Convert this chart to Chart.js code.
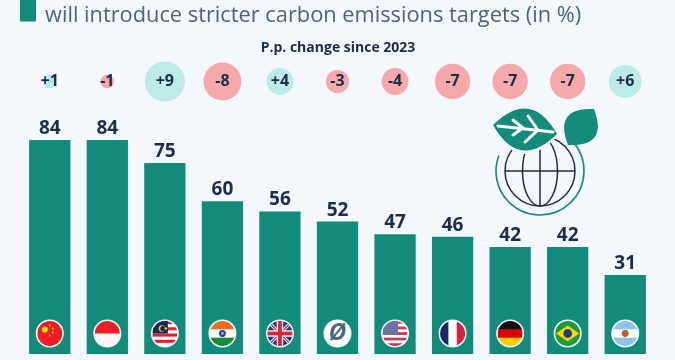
<!DOCTYPE html>
<html>
<head>
<meta charset="utf-8">
<title>Stricter carbon emissions targets</title>
<script src="https://cdn.jsdelivr.net/npm/chart.js@4"></script>
<style>
  html, body { margin: 0; padding: 0; background: #f4f7fb; }
  #wrap { position: relative; width: 675px; height: 360px; overflow: hidden; }
</style>
</head>
<body>
<div id="wrap"><canvas id="myChart" width="675" height="360"></canvas></div>
<script>
var countries = ["China", "Indonesia", "Malaysia", "India", "UK", "Global", "US", "France", "Germany", "Brazil", "Argentina"];
var shares = [84, 84, 75, 60, 56, 52, 47, 46, 42, 42, 31];
var changes = [1, -1, 9, -8, 4, -3, -4, -7, -7, -7, 6];
var changeRow = [107, 107, 107, 107, 107, 107, 107, 107, 107, 107, 107]; // height of the bubble row on the y scale

var titleText = "will introduce stricter carbon emissions targets (in %)";
var changeTitle = "P.p. change since 2023";

var TEAL = "#138b7b";
var NAVY = "#1b2d4b";
var FONT = '"Open Sans", sans-serif';

function disc(c, x, y, r, color) {
  c.fillStyle = color;
  c.beginPath();
  c.arc(x, y, r, 0, Math.PI * 2);
  c.fill();
}

function stripes(c, x, y, r, colors, vertical) {
  var s = (r * 2) / colors.length;
  colors.forEach(function (col, i) {
    c.fillStyle = col;
    if (vertical) c.fillRect(x - r + i * s, y - r, s + 0.5, r * 2);
    else c.fillRect(x - r, y - r + i * s, r * 2, s + 0.5);
  });
}

// each flag is drawn clipped to a small circle
var flags = {
  China: function (c, x, y, r) {
    stripes(c, x, y, r, ["#ee1c25"]);
    disc(c, x - 5, y - 4, 3, "#ffde00");
    [[0, -8], [3, -5], [3, -1], [0, 2]].forEach(function (p) { disc(c, x + p[0], y + p[1], 0.9, "#ffde00"); });
  },
  Indonesia: function (c, x, y, r) {
    stripes(c, x, y, r, ["#ee1c25", "#f7f7f7"]);
  },
  Malaysia: function (c, x, y, r) {
    stripes(c, x, y, r, ["#d9252f", "#fff", "#d9252f", "#fff", "#d9252f", "#fff", "#d9252f", "#fff"]);
    c.fillStyle = "#14295f";
    c.fillRect(x - r, y - r, r + 3, r);
    disc(c, x - 3, y - 5, 3.2, "#ffcc00");
    disc(c, x - 2, y - 5, 2.6, "#14295f");
    disc(c, x + 1, y - 5, 1.3, "#ffcc00");
  },
  India: function (c, x, y, r) {
    stripes(c, x, y, r, ["#f26a21", "#fff", "#1a8a3a"]);
    disc(c, x, y, 3.4, "#2b3f8c");
    disc(c, x, y, 1.4, "#aeb6d6");
  },
  UK: function (c, x, y, r) {
    stripes(c, x, y, r, ["#1f3a7d"]);
    c.strokeStyle = "#fff";
    c.lineWidth = 3;
    c.beginPath();
    c.moveTo(x - r, y - r); c.lineTo(x + r, y + r);
    c.moveTo(x + r, y - r); c.lineTo(x - r, y + r);
    c.stroke();
    c.strokeStyle = "#d3233f";
    c.lineWidth = 1.2;
    c.stroke();
    c.fillStyle = "#fff";
    c.fillRect(x - r, y - 3.2, r * 2, 6.4);
    c.fillRect(x - 3.2, y - r, 6.4, r * 2);
    c.fillStyle = "#d3233f";
    c.fillRect(x - r, y - 1.9, r * 2, 3.8);
    c.fillRect(x - 1.9, y - r, 3.8, r * 2);
  },
  Global: function (c, x, y, r) {
    stripes(c, x, y, r, ["#fff"]);
    c.fillStyle = "#4a6484";
    c.font = "italic bold 24px " + FONT;
    c.textAlign = "center";
    c.textBaseline = "middle";
    c.fillText("Ø", x, y);
  },
  US: function (c, x, y, r) {
    stripes(c, x, y, r, ["#c8384a", "#fff", "#c8384a", "#fff", "#c8384a", "#fff", "#c8384a", "#fff", "#c8384a"]);
    c.fillStyle = "#6b72a8";
    c.fillRect(x - r, y - r, r + 3, r + 1);
  },
  France: function (c, x, y, r) {
    stripes(c, x, y, r, ["#14295f", "#fff", "#d3233f"], true);
  },
  Germany: function (c, x, y, r) {
    stripes(c, x, y, r, ["#111", "#dd0000", "#ffce00"]);
  },
  Brazil: function (c, x, y, r) {
    stripes(c, x, y, r, ["#1d9a3c"]);
    c.fillStyle = "#ffd500";
    c.beginPath();
    c.moveTo(x - r + 1, y); c.lineTo(x, y - 8); c.lineTo(x + r - 1, y); c.lineTo(x, y + 8);
    c.closePath();
    c.fill();
    disc(c, x, y, 4.4, "#1f3a8a");
  },
  Argentina: function (c, x, y, r) {
    stripes(c, x, y, r, ["#8fc3ea", "#fff", "#8fc3ea"]);
    disc(c, x, y, 3.4, "#b5651d");
  }
};

function drawLeaf(c, x1, y1, x2, y2, bulge) {
  var mx = (x1 + x2) / 2, my = (y1 + y2) / 2;
  var dx = x2 - x1, dy = y2 - y1;
  var len = Math.sqrt(dx * dx + dy * dy);
  var nx = (-dy / len) * bulge, ny = (dx / len) * bulge;
  c.beginPath();
  c.moveTo(x1, y1);
  c.quadraticCurveTo(mx + nx, my + ny, x2, y2);
  c.quadraticCurveTo(mx - nx, my - ny, x1, y1);
  c.closePath();
  c.fill();
}

function drawIcon(c) {
  var cx = 540, cy = 171, r = 35;
  c.save();
  c.lineCap = "round";
  c.strokeStyle = TEAL;
  c.lineWidth = 1.6;
  c.beginPath();
  c.arc(cx, cy, 44, -0.75, Math.PI + 0.35);
  c.stroke();

  c.strokeStyle = NAVY;
  c.lineWidth = 1.5;
  c.beginPath();
  c.arc(cx, cy, r, 0, Math.PI * 2);
  c.moveTo(cx - r, cy); c.lineTo(cx + r, cy);
  c.moveTo(cx, cy - r); c.lineTo(cx, cy + r);
  c.stroke();
  c.beginPath();
  c.ellipse(cx, cy, 17.5, r, 0, 0, Math.PI * 2);
  c.stroke();

  c.fillStyle = "#f4f7fb";
  drawLeaf(c, 491, 125, 559, 135, 48);
  c.fillStyle = TEAL;
  drawLeaf(c, 493, 125, 557, 134, 42);
  drawLeaf(c, 594, 109, 568, 145, 34);

  c.strokeStyle = "#fff";
  c.lineWidth = 3;
  c.beginPath();
  c.moveTo(498, 126); c.lineTo(553, 132);
  c.moveTo(513, 120); c.lineTo(523, 128); c.lineTo(513, 135);
  c.moveTo(528, 116); c.lineTo(538, 130); c.lineTo(525, 142);
  c.stroke();
  c.restore();
}

var overlay = {
  id: "overlay",
  afterDatasetsDraw: function (chart) {
    var c = chart.ctx;
    var bars = chart.getDatasetMeta(0).data;
    var bubbles = chart.getDatasetMeta(1).data;

    c.save();
    c.fillStyle = TEAL;
    c.fillRect(20, 0, 16, 21.5);

    c.fillStyle = "#4a6484";
    c.font = "21.8px " + FONT;
    c.textAlign = "left";
    c.textBaseline = "alphabetic";
    c.fillText(titleText, 45, 22);

    c.fillStyle = NAVY;
    c.font = "bold 14px " + FONT;
    c.textAlign = "center";
    c.fillText(changeTitle, 338, 52);

    bars.forEach(function (bar, i) {
      c.fillStyle = NAVY;
      c.font = "bold 19px " + FONT;
      c.textAlign = "center";
      c.textBaseline = "alphabetic";
      c.fillText(shares[i], bar.x, bar.y - 6);

      c.font = "bold 16px " + FONT;
      c.textBaseline = "middle";
      c.fillText((changes[i] > 0 ? "+" : "") + changes[i], bubbles[i].x, bubbles[i].y);

      var fy = 333.5;
      disc(c, bar.x, fy, 14, "#f4f7fb");
      c.save();
      c.beginPath();
      c.arc(bar.x, fy, 12.5, 0, Math.PI * 2);
      c.clip();
      flags[countries[i]](c, bar.x, fy, 12.5);
      c.restore();
    });

    drawIcon(c);
    c.restore();
  }
};

var bubbleData = changes.map(function (v, i) {
  return { x: i, y: changeRow[i], r: 6.7 * Math.sqrt(Math.abs(v)) };
});

new Chart(document.getElementById("myChart").getContext("2d"), {
  type: "bar",
  data: {
    labels: countries,
    datasets: [
      {
        label: "Share",
        data: shares,
        backgroundColor: TEAL,
        barPercentage: 0.7175,
        categoryPercentage: 1,
        order: 2
      },
      {
        type: "bubble",
        label: "P.p. change since 2023",
        data: bubbleData,
        backgroundColor: changes.map(function (v) { return v > 0 ? "#bdebe6" : "#f6a8ab"; }),
        borderWidth: 0,
        clip: false,
        order: 1
      }
    ]
  },
  options: {
    responsive: false,
    animation: false,
    layout: { autoPadding: false, padding: { left: 21, right: 21, top: 0, bottom: 6 } },
    plugins: {
      legend: { display: false },
      tooltip: { enabled: false }
    },
    scales: {
      x: { type: "category", offset: true, display: false },
      y: { min: 0, max: 139, display: false }
    }
  },
  plugins: [overlay]
});
</script>
</body>
</html>
